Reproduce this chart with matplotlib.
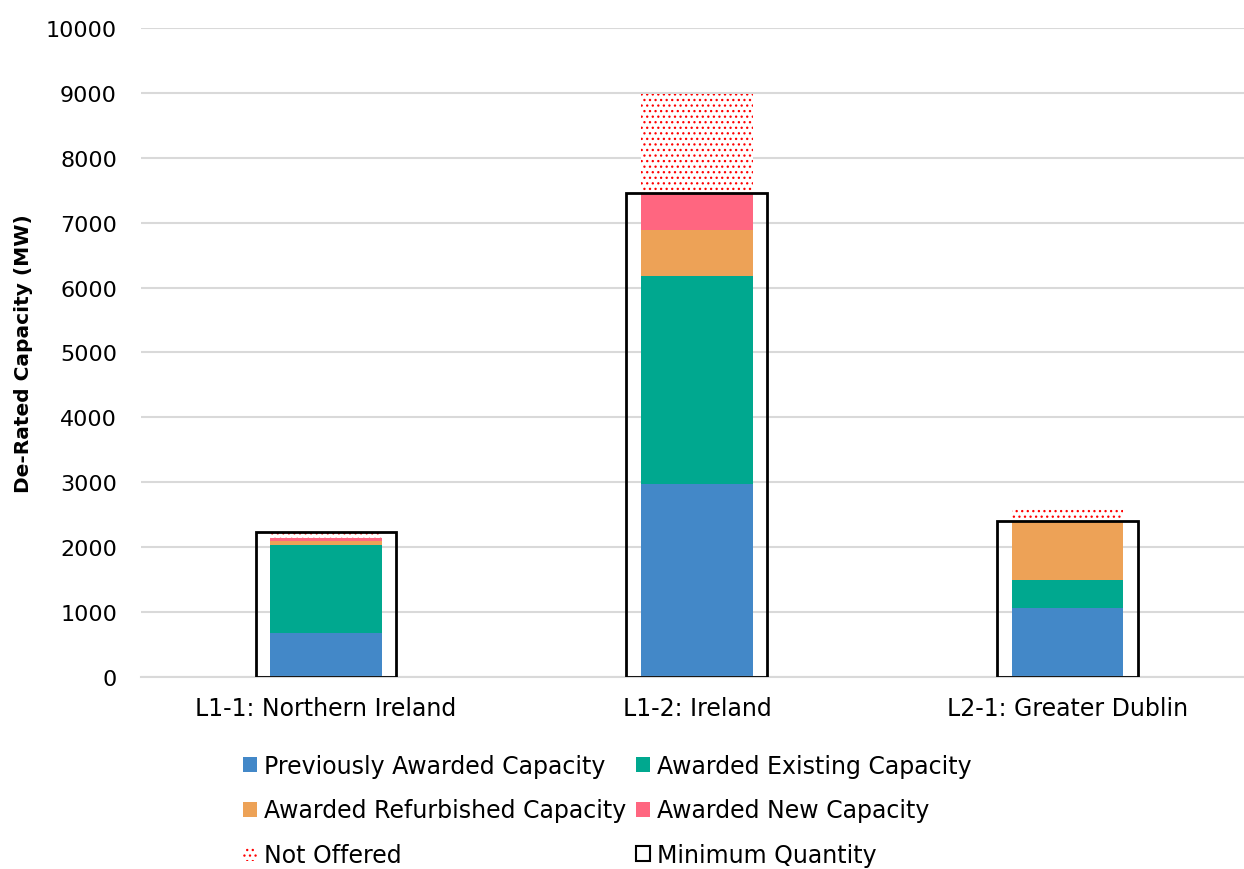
import matplotlib.pyplot as plt
from matplotlib.patches import Patch

plt.rcParams['font.family'] = ['DejaVu Sans']
plt.rcParams['hatch.linewidth'] = 0.9

zones = ["L1-1: Northern Ireland", "L1-2: Ireland", "L2-1: Greater Dublin"]
previously_awarded = [683, 2974, 1063]
awarded_existing = [1356, 3205, 437]
awarded_refurbished = [61, 709, 893]
awarded_new = [42, 554, 0]
not_offered = [140, 1540, 220]
minimum_quantity = [2229, 7453, 2399]

c_prev = "#4388C8"
c_exist = "#00A88F"
c_refurb = "#EDA257"
c_new = "#FF6680"

fig = plt.figure(figsize=(12.44, 8.7), dpi=100)
ax = fig.add_axes([0.113, 0.2207, 0.887, 0.746])

x = list(range(len(zones)))
w = 0.30
bottom = [0] * len(zones)
for vals, col in [(previously_awarded, c_prev), (awarded_existing, c_exist),
                  (awarded_refurbished, c_refurb), (awarded_new, c_new)]:
    ax.bar(x, vals, w, bottom=bottom, color=col, zorder=2)
    bottom = [b + v for b, v in zip(bottom, vals)]

# not offered: red dotted hatch on top of the stack
ax.bar(x, not_offered, w, bottom=bottom, facecolor="white", edgecolor="red",
       linewidth=0, hatch="...", zorder=2)

# minimum quantity outline boxes
ax.bar(x, minimum_quantity, 0.38, facecolor="none", edgecolor="black",
       linewidth=2, zorder=3)

ax.set_xlim(-0.5, 2.475)
ax.set_ylim(0, 10000)
ax.set_yticks(range(0, 10001, 1000))
ax.set_xticks(x)
ax.set_xticklabels(zones)
ax.tick_params(axis="x", length=0, labelsize=17, pad=14)
ax.tick_params(axis="y", length=0, labelsize=16, pad=17)
ax.grid(axis="y", color="#d9d9d9", linewidth=1.5, zorder=0)
ax.set_axisbelow(True)
for s in ["top", "right", "left"]:
    ax.spines[s].set_visible(False)
ax.spines["bottom"].set_color("#d9d9d9")
ax.spines["bottom"].set_linewidth(1.5)

ax.set_ylabel("De-Rated Capacity (MW)", fontsize=14.5, fontweight="bold", labelpad=9)

handles = [
    Patch(facecolor=c_prev, label="Previously Awarded Capacity"),
    Patch(facecolor=c_refurb, label="Awarded Refurbished Capacity"),
    Patch(facecolor="white", edgecolor="red", linewidth=0, hatch="...", label="Not Offered"),
    Patch(facecolor=c_exist, label="Awarded Existing Capacity"),
    Patch(facecolor=c_new, label="Awarded New Capacity"),
    Patch(facecolor="none", edgecolor="black", linewidth=1.5, label="Minimum Quantity"),
]
fig.legend(handles=handles, ncol=2, loc="upper center", bbox_to_anchor=(0.488, 0.151),
           frameon=False, fontsize=17, handlelength=0.6, handleheight=0.6,
           handletextpad=0.3, columnspacing=0.4, labelspacing=0.86,
           borderpad=0.2)

fig.savefig("out.png", dpi=100)
